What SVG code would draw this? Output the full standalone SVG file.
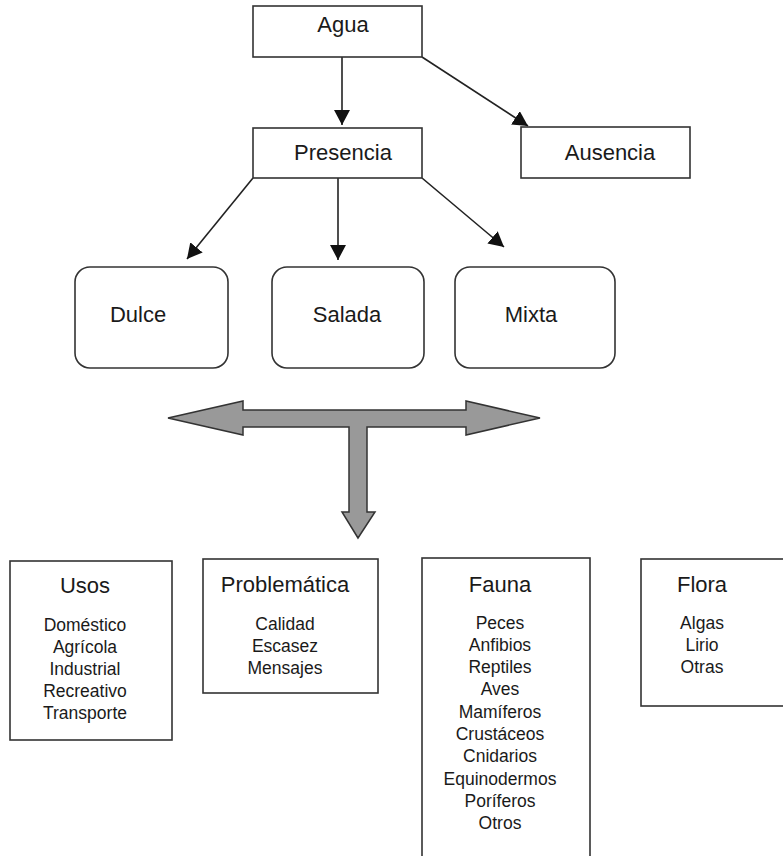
<svg xmlns="http://www.w3.org/2000/svg" width="783" height="856" viewBox="0 0 783 856">
<defs>
<style>
.box{fill:#fff;stroke:#333;stroke-width:1.6}
.lbl{font-family:"Liberation Sans",Arial,sans-serif;font-size:22px;fill:#1a1a1a;text-anchor:middle}
.item{font-family:"Liberation Sans",Arial,sans-serif;font-size:17.5px;fill:#1a1a1a;text-anchor:middle}
.conn{fill:none;stroke:#222;stroke-width:1.6}
</style>
<marker id="ah" markerUnits="userSpaceOnUse" markerWidth="15" markerHeight="16" refX="15" refY="8" orient="auto">
<path d="M0,0 L15,8 L0,16 z" fill="#111"/>
</marker>
</defs>
<rect width="783" height="856" fill="#fff"/>
<g id="connectors">
<line class="conn" x1="342" y1="57" x2="342" y2="125" marker-end="url(#ah)"/>
<line class="conn" x1="422" y1="57" x2="528" y2="126" marker-end="url(#ah)"/>
<line class="conn" x1="253" y1="178" x2="187" y2="259" marker-end="url(#ah)"/>
<line class="conn" x1="338" y1="178" x2="338" y2="260" marker-end="url(#ah)"/>
<line class="conn" x1="422" y1="178" x2="504" y2="247" marker-end="url(#ah)"/>
<polygon id="big-arrow" points="168,418 243,401 243,410 466,410 466,401 540,418 466,435 466,427 367,427 367,512 375,512 358,538 342,512 349,512 349,427 243,427 243,435" fill="#999" stroke="#333" stroke-width="1.5" stroke-linejoin="miter"/>
</g>
<g id="agua">
<rect class="box" x="253" y="6" width="169" height="51"/>
<text class="lbl" x="343" y="32">Agua</text>
</g>
<g id="presencia">
<rect class="box" x="253" y="128" width="169" height="50"/>
<text class="lbl" x="343" y="160">Presencia</text>
</g>
<g id="ausencia">
<rect class="box" x="521" y="127" width="169" height="51"/>
<text class="lbl" x="610" y="160">Ausencia</text>
</g>
<g id="dulce">
<rect class="box" x="75" y="267" width="153" height="101" rx="15" ry="15"/>
<text class="lbl" x="138" y="322">Dulce</text>
</g>
<g id="salada">
<rect class="box" x="272" y="267" width="152" height="101" rx="15" ry="15"/>
<text class="lbl" x="347" y="322">Salada</text>
</g>
<g id="mixta">
<rect class="box" x="455" y="267" width="160" height="101" rx="15" ry="15"/>
<text class="lbl" x="531" y="322">Mixta</text>
</g>
<g id="usos">
<rect class="box" x="10" y="561" width="162" height="179"/>
<text class="lbl" x="85" y="593">Usos</text>
<text class="item" x="85" y="631">Doméstico</text>
<text class="item" x="85" y="653">Agrícola</text>
<text class="item" x="85" y="675">Industrial</text>
<text class="item" x="85" y="697">Recreativo</text>
<text class="item" x="85" y="719">Transporte</text>
</g>
<g id="problematica">
<rect class="box" x="203" y="559" width="175" height="134"/>
<text class="lbl" x="285" y="592">Problemática</text>
<text class="item" x="285" y="630">Calidad</text>
<text class="item" x="285" y="652">Escasez</text>
<text class="item" x="285" y="674">Mensajes</text>
</g>
<g id="fauna">
<rect class="box" x="422" y="558" width="168" height="310"/>
<text class="lbl" x="500" y="592">Fauna</text>
<text class="item" x="500" y="629">Peces</text>
<text class="item" x="500" y="651">Anfibios</text>
<text class="item" x="500" y="673">Reptiles</text>
<text class="item" x="500" y="695">Aves</text>
<text class="item" x="500" y="718">Mamíferos</text>
<text class="item" x="500" y="740">Crustáceos</text>
<text class="item" x="500" y="762">Cnidarios</text>
<text class="item" x="500" y="785">Equinodermos</text>
<text class="item" x="500" y="807">Poríferos</text>
<text class="item" x="500" y="829">Otros</text>
</g>
<g id="flora">
<rect class="box" x="641" y="559" width="145" height="147"/>
<text class="lbl" x="702" y="592">Flora</text>
<text class="item" x="702" y="629">Algas</text>
<text class="item" x="702" y="651">Lirio</text>
<text class="item" x="702" y="673">Otras</text>
</g>
</svg>
